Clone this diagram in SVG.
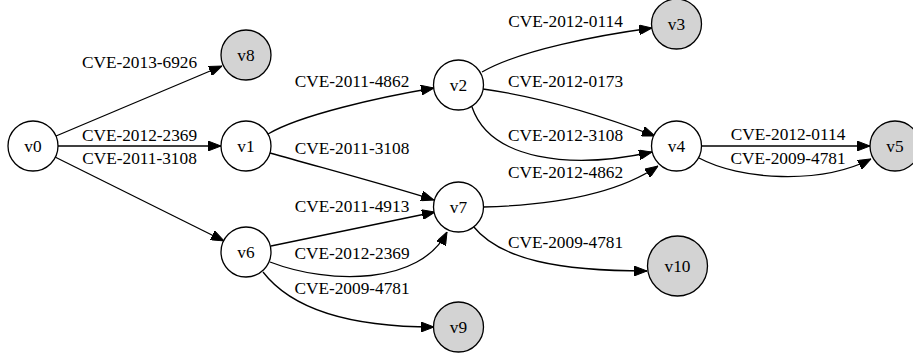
<svg xmlns="http://www.w3.org/2000/svg" width="913" height="356" viewBox="0 0 913 356" font-family="'Liberation Serif', 'Times New Roman', Times, serif">
<style>
text{font-family:'Liberation Serif','Times New Roman',Times,serif;font-size:17.3px;fill:#000;text-anchor:middle}
.n circle{fill:#fff;stroke:#000;stroke-width:1.3}
.n.g circle{fill:#d3d3d3}
#edges path{fill:none;stroke:#000;stroke-width:1.3;marker-end:url(#arr)}
</style>
<defs>
<marker id="arr" viewBox="0 0 13 10" refX="13" refY="5" markerWidth="13" markerHeight="10" markerUnits="userSpaceOnUse" orient="auto">
<path d="M0,0 L13,5 L0,10 z" fill="#000" stroke="#000" stroke-width="1"/>
</marker>
</defs>
<rect width="913" height="356" fill="#fff"/>
<g id="edges">
<path d="M56,136 L222,66"/>
<path d="M58,146 L221,146"/>
<path d="M55,157 L224,241"/>
<path d="M268,134 C300,115 380,97 434,88"/>
<path d="M270,153 C330,170 390,186 434,200"/>
<path d="M482,72 C520,50 600,35 652,28"/>
<path d="M483,89 C540,97 600,115 655,136"/>
<path d="M472,107 C490,160 570,170 652,152"/>
<path d="M483,207 C560,205 620,192 658,166"/>
<path d="M701,146 L870,146"/>
<path d="M699,158 C740,180 820,185 871,159"/>
<path d="M271,246 L435,212"/>
<path d="M270,262 C330,285 420,285 447,232"/>
<path d="M263,272 C300,320 380,327 434,327"/>
<path d="M473,226 C500,260 560,271 647,271"/>
<text x="139.5" y="68">CVE-2013-6926</text>
<text x="139.5" y="141">CVE-2012-2369</text>
<text x="139.5" y="164">CVE-2011-3108</text>
<text x="352" y="87">CVE-2011-4862</text>
<text x="352" y="154">CVE-2011-3108</text>
<text x="565.5" y="27">CVE-2012-0114</text>
<text x="565.5" y="87">CVE-2012-0173</text>
<text x="565.5" y="141">CVE-2012-3108</text>
<text x="565.5" y="178">CVE-2012-4862</text>
<text x="788" y="140">CVE-2012-0114</text>
<text x="788" y="164">CVE-2009-4781</text>
<text x="352" y="212">CVE-2011-4913</text>
<text x="352" y="259">CVE-2012-2369</text>
<text x="352" y="294">CVE-2009-4781</text>
<text x="565.5" y="248">CVE-2009-4781</text>
</g>
<g id="v0" class="n"><circle cx="33" cy="146" r="25"/><text x="33" y="152">v0</text></g>
<g id="v1" class="n"><circle cx="246" cy="146" r="25"/><text x="246" y="152">v1</text></g>
<g id="v2" class="n"><circle cx="458.5" cy="85" r="25"/><text x="458.5" y="91">v2</text></g>
<g id="v3" class="n g"><circle cx="676.5" cy="24" r="25"/><text x="676.5" y="30">v3</text></g>
<g id="v4" class="n"><circle cx="676.5" cy="146" r="25"/><text x="676.5" y="152">v4</text></g>
<g id="v5" class="n g"><circle cx="895" cy="146" r="25"/><text x="895" y="152">v5</text></g>
<g id="v6" class="n"><circle cx="246" cy="252" r="25"/><text x="246" y="258">v6</text></g>
<g id="v7" class="n"><circle cx="458.5" cy="207" r="25"/><text x="458.5" y="213">v7</text></g>
<g id="v8" class="n g"><circle cx="246" cy="55" r="25"/><text x="246" y="61">v8</text></g>
<g id="v9" class="n g"><circle cx="458.5" cy="327" r="25"/><text x="458.5" y="333">v9</text></g>
<g id="v10" class="n g"><circle cx="677.5" cy="266" r="30"/><text x="677.5" y="272">v10</text></g>
</svg>
